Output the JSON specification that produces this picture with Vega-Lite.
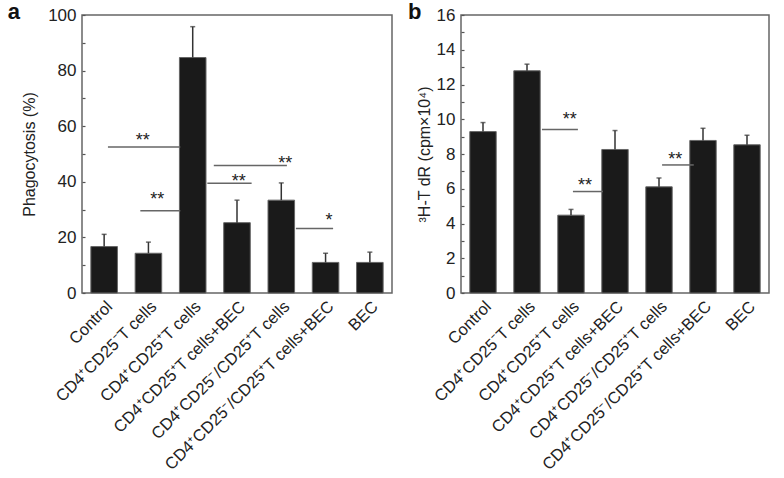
{
  "$schema": "https://vega.github.io/schema/vega-lite/v6.json",
  "background": "white",
  "padding": {"left": 6, "top": 0, "right": 10, "bottom": 0},
  "spacing": 14,
  "datasets": {
    "a": [
      {"group": "Control", "mean": 16.7, "upper": 21.1},
      {"group": "CD4⁺CD25⁻T cells", "mean": 14.3, "upper": 18.3},
      {"group": "CD4⁺CD25⁺T cells", "mean": 84.7, "upper": 95.8},
      {"group": "CD4⁺CD25⁺T cells+BEC", "mean": 25.3, "upper": 33.4},
      {"group": "CD4⁺CD25⁻/CD25⁺T cells", "mean": 33.4, "upper": 39.6},
      {"group": "CD4⁺CD25⁻/CD25⁺T cells+BEC", "mean": 11.0, "upper": 14.3},
      {"group": "BEC", "mean": 11.0, "upper": 14.7}
    ],
    "b": [
      {"group": "Control", "mean": 9.29, "upper": 9.81},
      {"group": "CD4⁺CD25⁻T cells", "mean": 12.79, "upper": 13.17},
      {"group": "CD4⁺CD25⁺T cells", "mean": 4.48, "upper": 4.81},
      {"group": "CD4⁺CD25⁺T cells+BEC", "mean": 8.26, "upper": 9.35},
      {"group": "CD4⁺CD25⁻/CD25⁺T cells", "mean": 6.11, "upper": 6.62},
      {"group": "CD4⁺CD25⁻/CD25⁺T cells+BEC", "mean": 8.78, "upper": 9.48},
      {"group": "BEC", "mean": 8.53, "upper": 9.08}
    ],
    "sigA": [
      {"x1": 0.586, "x2": 2.22, "y": 52.5, "xt": 1.37, "yt": 56.1, "label": "**"},
      {"x1": 1.317, "x2": 2.22, "y": 29.6, "xt": 1.70, "yt": 34.8, "label": "**"},
      {"x1": 2.83, "x2": 3.83, "y": 39.5, "xt": 3.54, "yt": 41.4, "label": "**"},
      {"x1": 2.976, "x2": 4.627, "y": 45.9, "xt": 4.59, "yt": 48.0, "label": "**"},
      {"x1": 4.83, "x2": 5.67, "y": 23.2, "xt": 5.58, "yt": 27.2, "label": "*"}
    ],
    "sigB": [
      {"x1": 1.84, "x2": 2.657, "y": 9.41, "xt": 2.47, "yt": 10.21, "label": "**"},
      {"x1": 2.544, "x2": 3.227, "y": 5.84, "xt": 2.82, "yt": 6.39, "label": "**"},
      {"x1": 4.57, "x2": 5.29, "y": 7.37, "xt": 4.87, "yt": 7.86, "label": "**"}
    ]
  },
  "hconcat": [
    {
      "width": 310,
      "height": 278,
      "title": {"text": "a", "anchor": "start", "frame": "bounds", "fontSize": 22, "fontWeight": "bold", "dx": -14, "dy": 22, "color": "#111"},
      "layer": [
        {
          "data": {"name": "a"},
          "encoding": {
            "x": {"field": "group", "type": "nominal", "sort": null, "scale": {"paddingInner": 0.4, "paddingOuter": 0.2}, "axis": {"title": null, "labelAngle": -45, "ticks": false, "domain": false, "labelPadding": 5, "labelFontSize": 16.5, "labelLimit": 500}},
            "y": {"type": "quantitative", "scale": {"domain": [0, 100]}, "axis": {"title": "Phagocytosis (%)", "values": [0, 10, 20, 30, 40, 50, 60, 70, 80, 90, 100], "labelExpr": "datum.value % 20 === 0 ? datum.label : ''", "labelOverlap": false, "domain": false, "grid": false, "tickSize": -3, "labelPadding": 9, "titlePadding": 10}}
          },
          "layer": [
            {"mark": {"type": "bar", "color": "#1a1a1a", "stroke": "#666", "strokeWidth": 1}, "encoding": {"y": {"field": "mean"}}},
            {"mark": {"type": "rule", "color": "#333", "strokeWidth": 1.5}, "encoding": {"y": {"field": "mean"}, "y2": {"field": "upper"}}},
            {"mark": {"type": "tick", "color": "#333", "size": 5, "thickness": 1.5}, "encoding": {"y": {"field": "upper"}}}
          ]
        },
        {
          "data": {"name": "sigA"},
          "encoding": {
            "x": {"type": "quantitative", "scale": {"domain": [0, 7], "nice": false, "zero": false}, "axis": null}
          },
          "layer": [
            {"mark": {"type": "rule", "color": "#666", "strokeWidth": 1.5}, "encoding": {"x": {"field": "x1"}, "x2": {"field": "x2"}, "y": {"field": "y", "type": "quantitative", "axis": {"title": "Phagocytosis (%)", "values": [0, 10, 20, 30, 40, 50, 60, 70, 80, 90, 100], "labelExpr": "datum.value % 20 === 0 ? datum.label : ''", "labelOverlap": false, "domain": false, "grid": false, "tickSize": -3, "labelPadding": 9, "titlePadding": 10}}}},
            {"mark": {"type": "text", "fontSize": 18, "color": "#222", "baseline": "middle", "dy": 4}, "encoding": {"x": {"field": "xt"}, "y": {"field": "yt", "type": "quantitative", "axis": {"title": "Phagocytosis (%)", "values": [0, 10, 20, 30, 40, 50, 60, 70, 80, 90, 100], "labelExpr": "datum.value % 20 === 0 ? datum.label : ''", "labelOverlap": false, "domain": false, "grid": false, "tickSize": -3, "labelPadding": 9, "titlePadding": 10}}, "text": {"field": "label"}}}
          ]
        }
      ],
      "resolve": {"scale": {"x": "independent"}, "axis": {"x": "independent"}}
    },
    {
      "width": 308,
      "height": 278,
      "title": {"text": "b", "anchor": "start", "frame": "bounds", "fontSize": 22, "fontWeight": "bold", "dx": -8, "dy": 22, "color": "#111"},
      "layer": [
        {
          "data": {"name": "b"},
          "encoding": {
            "x": {"field": "group", "type": "nominal", "sort": null, "scale": {"paddingInner": 0.4, "paddingOuter": 0.2}, "axis": {"title": null, "labelAngle": -45, "ticks": false, "domain": false, "labelPadding": 5, "labelFontSize": 16.5, "labelLimit": 500}},
            "y": {"type": "quantitative", "scale": {"domain": [0, 16]}, "axis": {"title": "³H-T dR (cpm×10⁴)", "values": [0, 1, 2, 3, 4, 5, 6, 7, 8, 9, 10, 11, 12, 13, 14, 15, 16], "labelExpr": "datum.value % 2 === 0 ? datum.label : ''", "labelOverlap": false, "domain": false, "grid": false, "tickSize": -3, "labelPadding": 9, "titlePadding": 4}}
          },
          "layer": [
            {"mark": {"type": "bar", "color": "#1a1a1a", "stroke": "#666", "strokeWidth": 1}, "encoding": {"y": {"field": "mean"}}},
            {"mark": {"type": "rule", "color": "#333", "strokeWidth": 1.5}, "encoding": {"y": {"field": "mean"}, "y2": {"field": "upper"}}},
            {"mark": {"type": "tick", "color": "#333", "size": 5, "thickness": 1.5}, "encoding": {"y": {"field": "upper"}}}
          ]
        },
        {
          "data": {"name": "sigB"},
          "encoding": {
            "x": {"type": "quantitative", "scale": {"domain": [0, 7], "nice": false, "zero": false}, "axis": null}
          },
          "layer": [
            {"mark": {"type": "rule", "color": "#666", "strokeWidth": 1.5}, "encoding": {"x": {"field": "x1"}, "x2": {"field": "x2"}, "y": {"field": "y", "type": "quantitative", "axis": {"title": "³H-T dR (cpm×10⁴)", "values": [0, 1, 2, 3, 4, 5, 6, 7, 8, 9, 10, 11, 12, 13, 14, 15, 16], "labelExpr": "datum.value % 2 === 0 ? datum.label : ''", "labelOverlap": false, "domain": false, "grid": false, "tickSize": -3, "labelPadding": 9, "titlePadding": 4}}}},
            {"mark": {"type": "text", "fontSize": 18, "color": "#222", "baseline": "middle", "dy": 4}, "encoding": {"x": {"field": "xt"}, "y": {"field": "yt", "type": "quantitative", "axis": {"title": "³H-T dR (cpm×10⁴)", "values": [0, 1, 2, 3, 4, 5, 6, 7, 8, 9, 10, 11, 12, 13, 14, 15, 16], "labelExpr": "datum.value % 2 === 0 ? datum.label : ''", "labelOverlap": false, "domain": false, "grid": false, "tickSize": -3, "labelPadding": 9, "titlePadding": 4}}, "text": {"field": "label"}}}
          ]
        }
      ],
      "resolve": {"scale": {"x": "independent"}, "axis": {"x": "independent"}}
    }
  ],
  "config": {
    "font": "Liberation Sans",
    "view": {"stroke": "#666", "strokeWidth": 1.5},
    "axis": {"labelFontSize": 17, "titleFontSize": 16, "titleFontWeight": "normal", "labelColor": "#222", "titleColor": "#222", "tickColor": "#555", "tickWidth": 1.2}
  }
}
